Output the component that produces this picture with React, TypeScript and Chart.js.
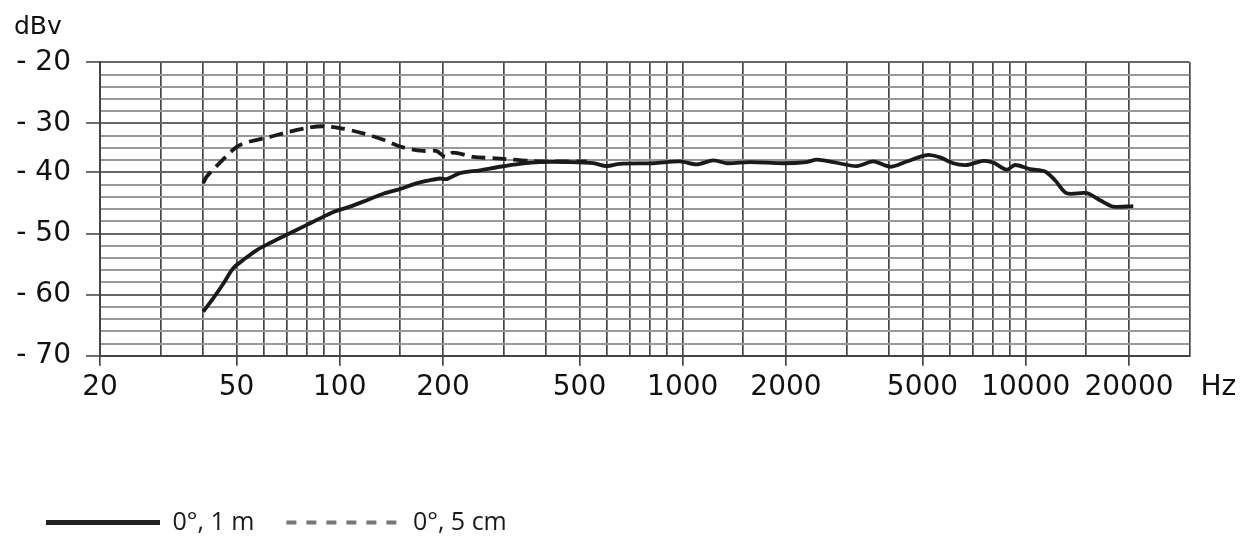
import React, { useEffect, useRef } from 'react';
import { Chart, registerables } from 'chart.js';

Chart.register(...registerables);

// 0°, 1 m (solid)
const freq1m = [40, 42.8, 45.8, 48.9, 52.3, 57.3, 62.6, 70, 78.3, 87.6, 95.8, 107, 120, 134, 150, 168, 183, 196, 205, 224, 256, 293, 335, 383, 469, 549, 600, 656, 821, 982, 1098, 1228, 1343, 1571, 1964, 2298, 2458, 2748, 3214, 3594, 4021, 4498, 5144, 5624, 6148, 6728, 7520, 8044, 8798, 9304, 10290, 11380, 12170, 13160, 15060, 16470, 18000, 20580];
const level1m = [-62.5, -60.2, -57.7, -55.1, -53.7, -52.0, -50.8, -49.4, -48.0, -46.6, -45.5, -44.6, -43.5, -42.4, -41.6, -40.6, -40.1, -39.8, -39.9, -38.9, -38.4, -37.8, -37.3, -37.0, -37.0, -37.2, -37.7, -37.3, -37.2, -36.9, -37.4, -36.7, -37.2, -37.0, -37.2, -37.0, -36.6, -37.0, -37.7, -36.9, -37.8, -36.9, -35.8, -36.2, -37.2, -37.5, -36.8, -37.1, -38.3, -37.5, -38.2, -38.6, -40.1, -42.3, -42.3, -43.5, -44.6, -44.5];

// 0°, 5 cm (dashed)
const freq5cm = [40, 40.9, 45.8, 50.1, 54.7, 62.6, 71.6, 81.9, 89.5, 100, 117, 134, 153, 175, 191, 203, 214, 245, 293, 359, 439, 525];
const level5cm = [-40.6, -39.5, -36.5, -34.4, -33.5, -32.7, -31.8, -31.1, -30.9, -31.2, -32.1, -33.2, -34.5, -35.1, -35.1, -36.1, -35.4, -36.1, -36.4, -36.8, -36.9, -36.9];

const seriesLabels = ['0°, 1 m', '0°, 5 cm'];

// x grid (Hz) and labelled ticks
const xGridValues = [20, 30, 40, 50, 60, 70, 80, 90, 100, 150, 200, 300, 400, 500, 600, 700, 800, 900, 1000, 1500, 2000, 3000, 4000, 5000, 6000, 7000, 8000, 9000, 10000, 15000, 20000, 30000];
const xTickLabels = [20, 50, 100, 200, 500, 1000, 2000, 5000, 10000, 20000];
const xUnitLabel = 'Hz';

// y grid: 25 lines from top (-20) to bottom (-70); labels sit on these rows
const yTickLabels = ['- 20', '- 30', '- 40', '- 50', '- 60', '- 70'];
const yLabelRows = [0, 5, 9, 14, 19, 24];
const yRowCount = 25;
const yMax = -20;
const yMin = -70;
const yUnitLabel = 'dBv';

const yStep = (yMax - yMin) / (yRowCount - 1);
const yRowOf = (v: number) => Math.round((yMax - v) / yStep);
const yLabelFor = (v: number) => {
  const i = yLabelRows.indexOf(yRowOf(v));
  return i >= 0 ? yTickLabels[i] : '';
};
const xLabelFor = (v: number) => (xTickLabels.indexOf(v) >= 0 ? String(v) : '');

const tickFont = { family: '"DejaVu Sans", sans-serif', size: 28 };

const hzPlugin = {
  id: 'hzLabel',
  afterDraw(chart: any) {
    const { ctx } = chart;
    const x = chart.scales.x;
    ctx.save();
    ctx.font = `${tickFont.size}px ${tickFont.family}`;
    ctx.fillStyle = '#111';
    ctx.textAlign = 'left';
    ctx.textBaseline = 'middle';
    ctx.fillText(xUnitLabel, x.right + 11, x.top + 10 + 5 + (tickFont.size * 1.2) / 2);
    ctx.restore();
  },
};

export default function App() {
  const ref = useRef<HTMLCanvasElement | null>(null);

  useEffect(() => {
    if (!ref.current) return;
    const legendStroke = ['#222222', '#777777'];
    const legendWidth = [5, 4];
    const legendDash = [[], [10, 10]];
    const chart = new Chart(ref.current, {
      type: 'line',
      data: {
        datasets: [
          {
            label: seriesLabels[0],
            data: freq1m.map((f, i) => ({ x: f, y: level1m[i] })),
            borderColor: '#1a1a1a',
            borderWidth: 3.8,
            pointRadius: 0,
            tension: 0.3,
            fill: false,
          },
          {
            label: seriesLabels[1],
            data: freq5cm.map((f, i) => ({ x: f, y: level5cm[i] })),
            borderColor: '#1a1a1a',
            borderWidth: 3.8,
            borderDash: [14, 7],
            pointRadius: 0,
            tension: 0.3,
            fill: false,
          },
        ],
      },
      options: {
        animation: false,
        responsive: false,
        devicePixelRatio: 1,
        layout: { padding: { left: 14, right: 53.6, top: 0, bottom: 0 } },
        plugins: {
          tooltip: { enabled: false },
          title: {
            display: true,
            text: yUnitLabel,
            align: 'start',
            color: '#111',
            font: { family: '"DejaVu Sans", sans-serif', size: 25, weight: 'normal' },
            padding: { top: 12.5, bottom: 19.8 },
          },
          legend: {
            display: true,
            position: 'bottom',
            align: 'start',
            labels: {
              usePointStyle: true,
              pointStyleWidth: 114,
              padding: 32,
              color: '#222',
              font: { family: '"Open Sans", sans-serif', size: 25 },
              generateLabels: (c: any) =>
                c.data.datasets.map((ds: any, i: number) => ({
                  text: ds.label,
                  fillStyle: 'rgba(0,0,0,0)',
                  strokeStyle: legendStroke[i],
                  lineWidth: legendWidth[i],
                  lineDash: legendDash[i],
                  pointStyle: 'line',
                  hidden: false,
                  datasetIndex: i,
                  fontColor: '#1a1a1a',
                })),
            },
          },
        },
        scales: {
          x: {
            type: 'logarithmic',
            min: 20,
            max: 30000,
            afterBuildTicks: (scale: any) => {
              scale.ticks = xGridValues.map((v) => ({ value: v }));
            },
            afterFit: (scale: any) => {
              scale.height = 122.3;
            },
            border: { display: true, color: '#444', width: 2 },
            grid: {
              drawOnChartArea: true,
              tickLength: 10,
              lineWidth: 1.7,
              color: '#454545',
              tickColor: (ctx: any) => (ctx.tick && xLabelFor(ctx.tick.value) ? '#454545' : 'rgba(0,0,0,0)'),
            },
            ticks: {
              autoSkip: false,
              maxRotation: 0,
              minRotation: 0,
              padding: 5,
              color: '#111',
              font: tickFont,
              callback: (v: any) => xLabelFor(Number(v)),
            },
          },
          y: {
            type: 'linear',
            min: yMin,
            max: yMax,
            afterBuildTicks: (scale: any) => {
              const t = [];
              for (let r = yRowCount - 1; r >= 0; r--) t.push({ value: yMax - r * yStep });
              scale.ticks = t;
            },
            afterFit: (scale: any) => {
              scale.width = 86;
            },
            border: { display: true, color: '#444', width: 2 },
            grid: {
              tickLength: 14,
              lineWidth: 1.9,
              color: (ctx: any) => (ctx.tick && yLabelFor(ctx.tick.value) ? '#666' : '#999'),
              tickColor: (ctx: any) => (ctx.tick && yLabelFor(ctx.tick.value) ? '#666' : 'rgba(0,0,0,0)'),
            },
            ticks: {
              autoSkip: false,
              padding: 15,
              color: '#111',
              font: tickFont,
              callback: (v: any) => yLabelFor(Number(v)),
            },
          },
        },
      },
      plugins: [hzPlugin],
    } as any);
    return () => chart.destroy();
  }, []);

  return (
    <div style={{ position: 'fixed', left: 0, top: 0, width: 1243, height: 545, background: '#fff' }}>
      <canvas ref={ref} width={1243} height={545} style={{ display: 'block' }} />
    </div>
  );
}
